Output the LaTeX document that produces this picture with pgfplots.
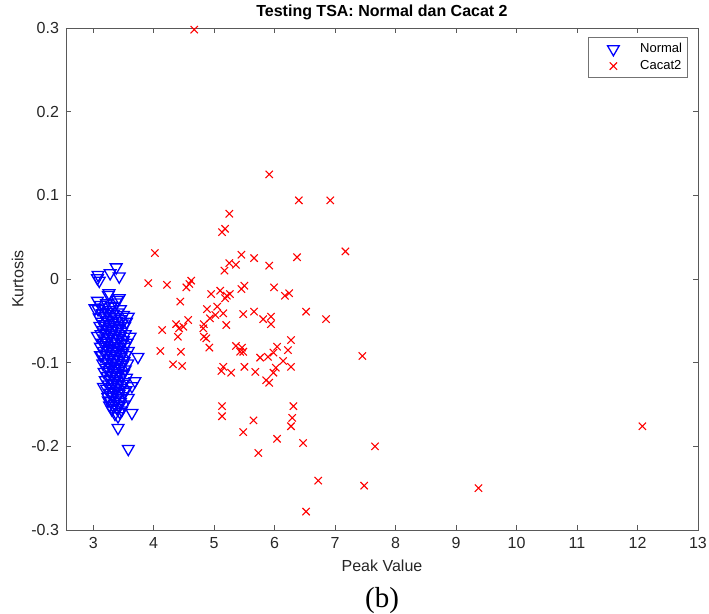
\documentclass[border=0pt]{standalone}
\usepackage{fontspec}
\setmainfont{Liberation Sans}
\newfontfamily\seriffont{Liberation Serif}
\usepackage{pgfplots}
\pgfplotsset{compat=1.18}
\definecolor{mblue}{RGB}{0,0,255}
\definecolor{mred}{RGB}{255,0,0}
\begin{document}
\begin{tikzpicture}
\path[use as bounding box] (-33pt,-42pt) rectangle (321.5pt,265pt);
\begin{axis}[
  at={(0,0)}, anchor=south west,
  scale only axis, width=316pt, height=251pt,
  xmin=2.55, xmax=13, ymin=-0.3, ymax=0.3,
  xtick={3,4,5,6,7,8,9,10,11,12,13},
  ytick={-0.3,-0.2,-0.1,0,0.1,0.2,0.3},
  yticklabels={-0.3,-0.2,-0.1,0,0.1,0.2,0.3},
  tick align=inside, major tick length=2.5pt,
  axis line style={black!65, line width=0.45pt},
  every tick/.style={black!65, line width=0.45pt},
  /pgf/number format/assume math mode=true,
  ticklabel style={font=\fontsize{8}{9}\selectfont, text=black!85},
  xlabel={Peak Value}, ylabel={Kurtosis},
  label style={font=\fontsize{8}{9}\selectfont, text=black!85},
  ylabel style={xshift=0pt, yshift=-3pt},
  xlabel style={yshift=1pt},
  title={Testing TSA: Normal dan Cacat 2},
  every axis title shift=0pt,
  title style={font=\bfseries\fontsize{8}{9}\selectfont, at={(0.5,1)}, anchor=base, yshift=6pt},
  legend style={at={(0.984,0.982)}, anchor=north east, draw=black!55,
    line width=0.4pt, font=\fontsize{6.5}{7.5}\selectfont, inner sep=1.5pt,
    nodes={inner sep=1.2pt}},
  legend cell align=left,
  legend image code/.code={\path (0pt,0pt) (23pt,0pt); \draw[mark repeat=2,mark phase=2,#1] plot coordinates {(0pt,0pt)(11pt,0pt)(22pt,0pt)};},
  clip=false,
]
\addplot[only marks, mark=triangle, mark size=3.4pt, mark options={rotate=180, draw=mblue, line width=0.65pt, fill=none}, draw=mblue] table {
x y
3.38 0.014
3.28 0.007
3.43 0.003
3.08 0.005
3.07 0.001
3.10 -0.002
3.26 -0.017
3.25 -0.019
3.40 -0.025
3.43 -0.023
3.07 -0.026
3.03 -0.035
3.58 -0.045
3.07 -0.068
3.61 -0.069
3.12 -0.091
3.74 -0.093
3.69 -0.122
3.64 -0.128
3.17 -0.129
3.25 -0.145
3.33 -0.152
3.58 -0.142
3.64 -0.160
3.41 -0.164
3.41 -0.178
3.58 -0.203
3.12 -0.031
3.22 -0.029
3.30 -0.032
3.38 -0.028
3.08 -0.036
3.18 -0.034
3.27 -0.037
3.35 -0.033
3.45 -0.036
3.15 -0.041
3.24 -0.039
3.33 -0.042
3.41 -0.040
3.50 -0.043
3.10 -0.046
3.20 -0.044
3.28 -0.047
3.37 -0.045
3.46 -0.048
3.14 -0.051
3.23 -0.049
3.31 -0.052
3.39 -0.050
3.48 -0.053
3.55 -0.051
3.11 -0.056
3.19 -0.054
3.27 -0.057
3.35 -0.055
3.43 -0.058
3.52 -0.056
3.16 -0.061
3.24 -0.059
3.32 -0.062
3.40 -0.060
3.47 -0.063
3.13 -0.066
3.21 -0.064
3.29 -0.067
3.37 -0.065
3.45 -0.068
3.53 -0.066
3.18 -0.071
3.26 -0.069
3.34 -0.072
3.42 -0.070
3.50 -0.073
3.15 -0.076
3.23 -0.074
3.31 -0.077
3.39 -0.075
3.47 -0.078
3.56 -0.076
3.12 -0.081
3.20 -0.079
3.28 -0.082
3.36 -0.080
3.44 -0.083
3.52 -0.081
3.17 -0.086
3.25 -0.084
3.33 -0.087
3.41 -0.085
3.49 -0.088
3.58 -0.086
3.14 -0.091
3.22 -0.089
3.30 -0.092
3.38 -0.090
3.46 -0.093
3.54 -0.091
3.19 -0.096
3.27 -0.094
3.35 -0.097
3.43 -0.095
3.51 -0.098
3.16 -0.101
3.24 -0.099
3.32 -0.102
3.40 -0.100
3.48 -0.103
3.57 -0.101
3.21 -0.106
3.29 -0.104
3.37 -0.107
3.45 -0.105
3.53 -0.108
3.18 -0.111
3.26 -0.109
3.34 -0.112
3.42 -0.110
3.50 -0.113
3.23 -0.116
3.31 -0.114
3.39 -0.117
3.47 -0.115
3.55 -0.118
3.20 -0.121
3.28 -0.119
3.36 -0.122
3.44 -0.120
3.52 -0.123
3.25 -0.126
3.33 -0.124
3.41 -0.127
3.49 -0.125
3.22 -0.131
3.30 -0.129
3.38 -0.132
3.46 -0.130
3.54 -0.133
3.27 -0.136
3.35 -0.134
3.43 -0.137
3.51 -0.135
3.24 -0.141
3.32 -0.139
3.40 -0.142
3.48 -0.140
3.29 -0.146
3.37 -0.144
3.45 -0.147
3.27 -0.151
3.35 -0.149
3.43 -0.152
3.51 -0.150
3.31 -0.156
3.39 -0.154
3.47 -0.157
3.36 -0.161
3.44 -0.159
};
\addlegendentry{Normal}
\addplot[only marks, mark=x, mark size=2.6pt, mark options={draw=mred, line width=0.55pt}, draw=mred] table {
x y
5.25 0.078
5.18 0.060
5.13 0.056
4.02 0.031
5.45 0.029
5.66 0.025
5.25 0.019
5.36 0.017
5.17 0.010
3.91 -0.005
4.22 -0.007
4.54 -0.010
4.62 -0.002
4.59 -0.006
4.95 -0.018
5.10 -0.014
5.21 -0.020
5.26 -0.018
5.18 -0.023
5.45 -0.012
5.50 -0.008
4.44 -0.027
4.88 -0.036
5.05 -0.033
5.15 -0.041
5.02 -0.043
4.93 -0.047
5.48 -0.042
5.66 -0.039
4.57 -0.049
4.37 -0.054
4.49 -0.057
4.42 -0.059
4.14 -0.061
4.83 -0.054
4.82 -0.059
5.20 -0.055
4.40 -0.069
4.83 -0.069
4.87 -0.071
4.92 -0.082
4.11 -0.086
4.45 -0.087
5.36 -0.080
5.46 -0.082
5.43 -0.087
5.48 -0.087
4.32 -0.102
4.47 -0.104
5.15 -0.105
5.12 -0.110
5.28 -0.112
5.50 -0.105
5.68 -0.111
5.13 -0.152
5.13 -0.164
5.91 0.125
6.40 0.094
6.92 0.094
6.37 0.026
7.17 0.033
5.91 0.016
5.99 -0.010
6.17 -0.020
6.24 -0.017
5.81 -0.048
5.94 -0.045
5.94 -0.054
6.52 -0.039
6.85 -0.048
6.27 -0.073
6.04 -0.081
6.22 -0.085
5.76 -0.094
5.89 -0.093
5.98 -0.088
6.14 -0.098
6.27 -0.105
6.02 -0.106
5.98 -0.112
5.86 -0.121
5.91 -0.124
7.45 -0.092
6.31 -0.152
6.29 -0.166
6.27 -0.176
5.65 -0.169
6.04 -0.191
6.47 -0.196
7.66 -0.200
5.73 -0.208
5.48 -0.183
6.72 -0.241
7.48 -0.247
6.52 -0.278
9.37 -0.250
12.08 -0.176
4.67 0.298
};
\addlegendentry{Cacat2}
\end{axis}
\node[font=\seriffont\fontsize{14.5}{16}\selectfont] at (158pt,-35.5pt) {(b)};
\end{tikzpicture}
\end{document}
